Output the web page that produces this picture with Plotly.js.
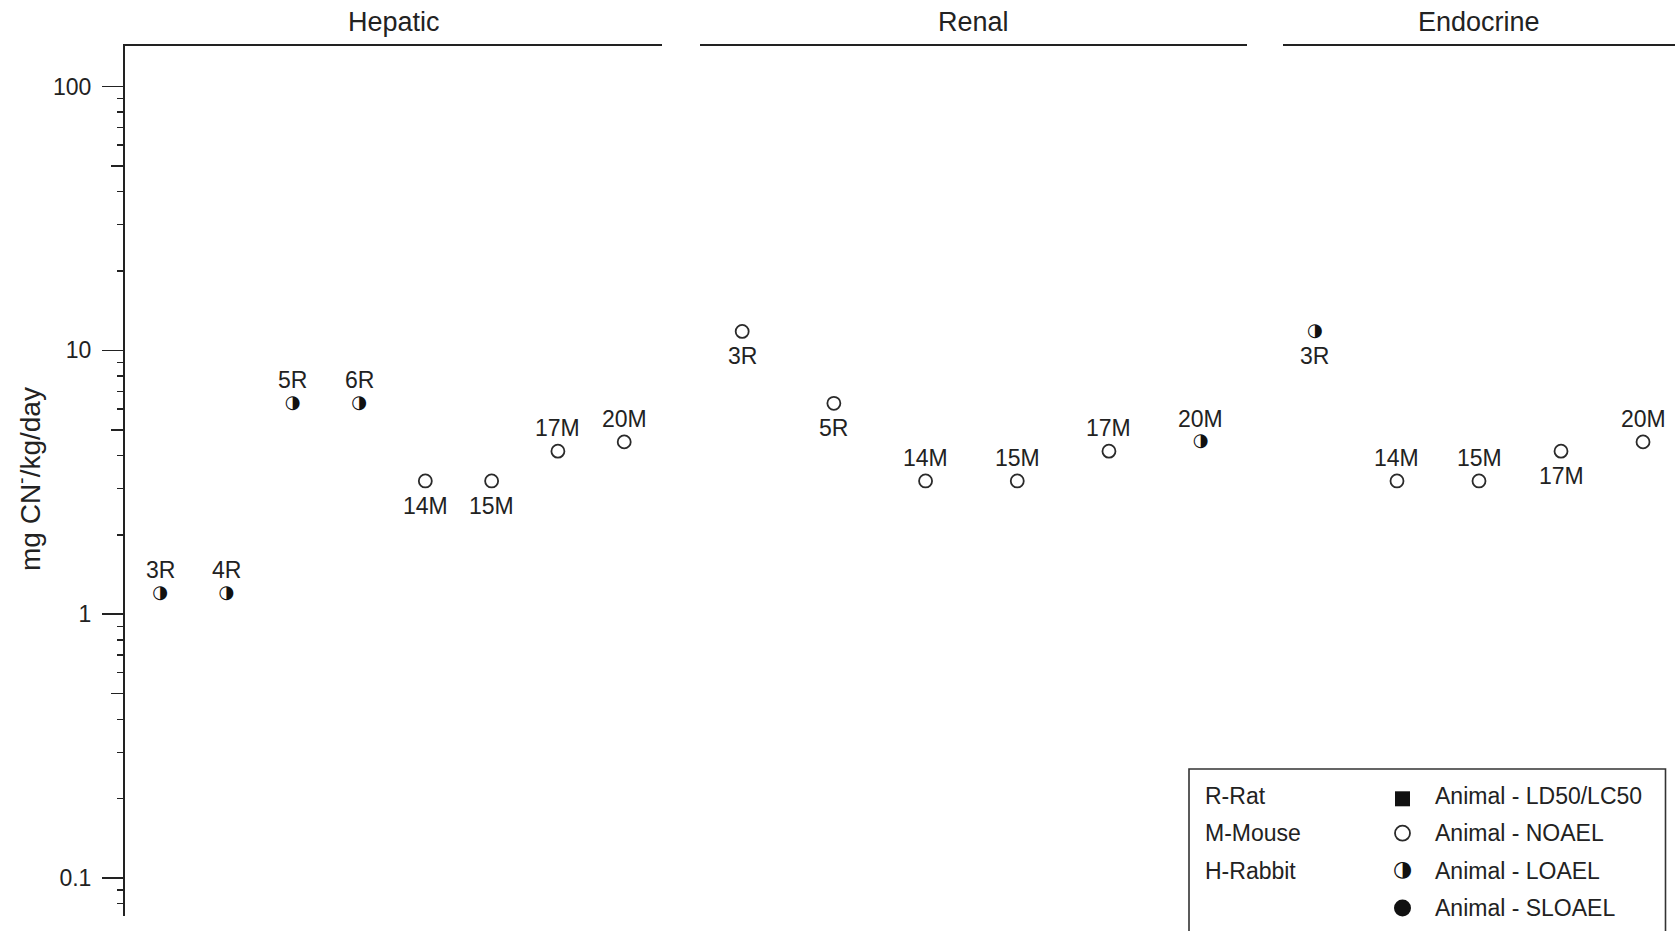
<!DOCTYPE html>
<html>
<head>
<meta charset="utf-8">
<script src="https://cdn.plot.ly/plotly-3.0.1.min.js"></script>
<style>
  html, body { margin: 0; padding: 0; background: #fff; }
  #chart { width: 1675px; height: 931px; }
</style>
</head>
<body>
<div id="chart"></div>
<script>
// Cyanide exposure levels by target organ (mg CN-/kg/day), one panel per system
const panelNames = ['Hepatic', 'Renal', 'Endocrine'];

const hepaticLabels = ['3R', '4R', '5R', '6R', '14M', '15M', '17M', '20M'];
const hepaticValues = [1.2, 1.2, 6.3, 6.3, 3.2, 3.2, 4.15, 4.5];
const hepaticEffect = ['LOAEL', 'LOAEL', 'LOAEL', 'LOAEL', 'NOAEL', 'NOAEL', 'NOAEL', 'NOAEL'];
const hepaticLabelSide = ['above', 'above', 'above', 'above', 'below', 'below', 'above', 'above'];

const renalLabels = ['3R', '5R', '14M', '15M', '17M', '20M'];
const renalValues = [11.8, 6.3, 3.2, 3.2, 4.15, 4.5];
const renalEffect = ['NOAEL', 'NOAEL', 'NOAEL', 'NOAEL', 'NOAEL', 'LOAEL'];
const renalLabelSide = ['below', 'below', 'above', 'above', 'above', 'above'];

const endocrineLabels = ['3R', '14M', '15M', '17M', '20M'];
const endocrineValues = [11.8, 3.2, 3.2, 4.15, 4.5];
const endocrineEffect = ['LOAEL', 'NOAEL', 'NOAEL', 'NOAEL', 'NOAEL'];
const endocrineLabelSide = ['below', 'above', 'above', 'below', 'above'];

const yTickValues = [0.1, 1, 10, 100];
const speciesKey = ['R-Rat', 'M-Mouse', 'H-Rabbit'];
const effectKey = ['Animal - LD50/LC50', 'Animal - NOAEL', 'Animal - LOAEL', 'Animal - SLOAEL'];

// ---- layout geometry ----
const W = 1675, H = 931;
const M = { l: 125, r: 0, t: 46, b: 15 };
const plotW = W - M.l - M.r, plotH = H - M.t - M.b;
const px = v => (v - M.l) / plotW;           // page x -> paper x
const py = v => (H - M.b - v) / plotH;       // page y -> paper y

const INK = '#222';
const FONT = 'Liberation Sans, Arial, sans-serif';
const GLYPH_FONT = 'DejaVu Sans, sans-serif';
const yRange = [-1.1436, 2.1535];

const panels = [
  { name: panelNames[0], labels: hepaticLabels, values: hepaticValues, effect: hepaticEffect, side: hepaticLabelSide,
    ax: 'x', domain: [px(125), px(662)], range: [-0.53, 7.57] },
  { name: panelNames[1], labels: renalLabels, values: renalValues, effect: renalEffect, side: renalLabelSide,
    ax: 'x2', domain: [px(700), px(1246.5)], range: [-0.46, 5.5] },
  { name: panelNames[2], labels: endocrineLabels, values: endocrineValues, effect: endocrineEffect, side: endocrineLabelSide,
    ax: 'x3', domain: [px(1283), 1], range: [-0.39, 4.39] }
];

const traces = [];
const annotations = [];
const layout = {
  width: W, height: H,
  margin: M,
  paper_bgcolor: '#fff', plot_bgcolor: '#fff',
  showlegend: false,
  font: { family: FONT, size: 23, color: INK }
};

panels.forEach((p, i) => {
  const key = i === 0 ? 'xaxis' : 'xaxis' + (i + 1);
  layout[key] = {
    domain: p.domain, range: p.range, anchor: 'y', side: 'top',
    showline: true, linecolor: INK, linewidth: 2,
    showticklabels: false, ticks: '', showgrid: false, zeroline: false, fixedrange: true
  };

  const idx = p.values.map((_, k) => k);
  const sel = type => idx.filter(k => p.effect[k] === type);
  const noael = sel('NOAEL'), loael = sel('LOAEL');

  traces.push({
    type: 'scatter', mode: 'markers', xaxis: p.ax, yaxis: 'y',
    x: noael, y: noael.map(k => p.values[k]), cliponaxis: false,
    marker: { symbol: 'circle-open', size: 13, color: '#2a2a2a', line: { width: 1.8 } },
    hoverinfo: 'skip'
  });
  traces.push({
    type: 'scatter', mode: 'text', xaxis: p.ax, yaxis: 'y',
    x: loael, y: loael.map(k => p.values[k]), cliponaxis: false,
    text: loael.map(() => '\u25D1'), textposition: 'middle center',
    textfont: { family: GLYPH_FONT, size: 18, color: '#111' },
    hoverinfo: 'skip'
  });

  p.labels.forEach((lab, k) => {
    annotations.push({
      xref: p.ax, yref: 'y', x: k, y: Math.log10(p.values[k]),
      text: lab, showarrow: false, xanchor: 'center', yanchor: 'middle',
      yshift: p.side[k] === 'above' ? 23 : -25,
      font: { family: FONT, size: 23, color: INK }
    });
  });

  // panel strip title
  annotations.push({
    xref: 'paper', yref: 'paper', x: (p.domain[0] + p.domain[1]) / 2, y: py(22),
    text: p.name, showarrow: false, xanchor: 'center', yanchor: 'middle',
    font: { family: FONT, size: 27, color: INK }
  });
});

// minor ticks 2..9 in each decade, plus longer ticks at the 5s
const minorVals = [], fiveVals = [];
[0.01, 0.1, 1, 10, 100].forEach(d => {
  for (let k = 2; k <= 9; k++) minorVals.push(+(k * d).toPrecision(3));
  fiveVals.push(+(5 * d).toPrecision(3));
});

layout.yaxis = {
  type: 'log', range: yRange, anchor: 'x', side: 'left', fixedrange: true,
  showline: true, linecolor: INK, linewidth: 2,
  showgrid: false, zeroline: false,
  tickmode: 'array', tickvals: yTickValues,
  ticks: 'outside', ticklen: 21, tickwidth: 1.6, tickcolor: INK,
  ticklabelstandoff: 6,
  tickfont: { family: FONT, size: 23, color: INK },
  minor: { tickmode: 'array', tickvals: minorVals, ticks: 'outside', ticklen: 6, tickwidth: 1.4, tickcolor: INK, showgrid: false }
};
layout.yaxis2 = {
  type: 'log', range: yRange, overlaying: 'y', anchor: 'x', side: 'left', fixedrange: true,
  showline: false, showgrid: false, zeroline: false, showticklabels: false,
  tickmode: 'array', tickvals: fiveVals,
  ticks: 'outside', ticklen: 13, tickwidth: 1.5, tickcolor: INK
};
traces.push({ type: 'scatter', mode: 'markers', x: [], y: [], xaxis: 'x', yaxis: 'y2', hoverinfo: 'skip' });

// y-axis title
annotations.push({
  xref: 'paper', yref: 'paper', x: px(28), y: py(479),
  text: 'mg CN<sup>-</sup>/kg/day', textangle: -90, showarrow: false,
  xanchor: 'center', yanchor: 'middle',
  font: { family: FONT, size: 28, color: INK }
});

// ---- key box ----
const boxL = px(1189), boxR = px(1665.5), boxT = py(769);
const rowY = [795.8, 833.2, 870.6, 908].map(py);
const symX = px(1402.5);

layout.shapes = [{
  type: 'rect', xref: 'paper', yref: 'paper', x0: boxL, x1: boxR, y0: -0.05, y1: boxT,
  line: { color: '#333', width: 1.6 }, fillcolor: 'rgba(0,0,0,0)'
}];

speciesKey.forEach((t, k) => annotations.push({
  xref: 'paper', yref: 'paper', x: px(1203), y: rowY[k], text: t, showarrow: false,
  xanchor: 'left', yanchor: 'middle', font: { family: FONT, size: 23, color: INK }
}));
effectKey.forEach((t, k) => annotations.push({
  xref: 'paper', yref: 'paper', x: px(1432.5), y: rowY[k], text: t, showarrow: false,
  xanchor: 'left', yanchor: 'middle', font: { family: FONT, size: 23, color: INK }
}));

// key symbols live on their own hidden subplot spanning the box
layout.xaxis4 = { domain: [boxL, boxR], range: [boxL, boxR], anchor: 'y3', visible: false, fixedrange: true };
layout.yaxis3 = { domain: [0, boxT], range: [0, boxT], anchor: 'x4', visible: false, fixedrange: true };
traces.push({
  type: 'scatter', mode: 'markers', xaxis: 'x4', yaxis: 'y3', cliponaxis: false,
  x: [symX], y: [rowY[0] - 3 / plotH],
  marker: { symbol: 'square', size: 15, color: '#111' }, hoverinfo: 'skip'
});
traces.push({
  type: 'scatter', mode: 'markers', xaxis: 'x4', yaxis: 'y3', cliponaxis: false,
  x: [symX], y: [rowY[1]],
  marker: { symbol: 'circle-open', size: 15, color: '#2a2a2a', line: { width: 1.8 } }, hoverinfo: 'skip'
});
traces.push({
  type: 'scatter', mode: 'text', xaxis: 'x4', yaxis: 'y3', cliponaxis: false,
  x: [symX], y: [rowY[2]], text: ['\u25D1'], textposition: 'middle center',
  textfont: { family: GLYPH_FONT, size: 22, color: '#111' }, hoverinfo: 'skip'
});
traces.push({
  type: 'scatter', mode: 'markers', xaxis: 'x4', yaxis: 'y3', cliponaxis: false,
  x: [symX], y: [rowY[3]],
  marker: { symbol: 'circle', size: 17, color: '#111' }, hoverinfo: 'skip'
});

layout.annotations = annotations;

Plotly.newPlot('chart', traces, layout, { staticPlot: true, displayModeBar: false });
</script>
</body>
</html>
